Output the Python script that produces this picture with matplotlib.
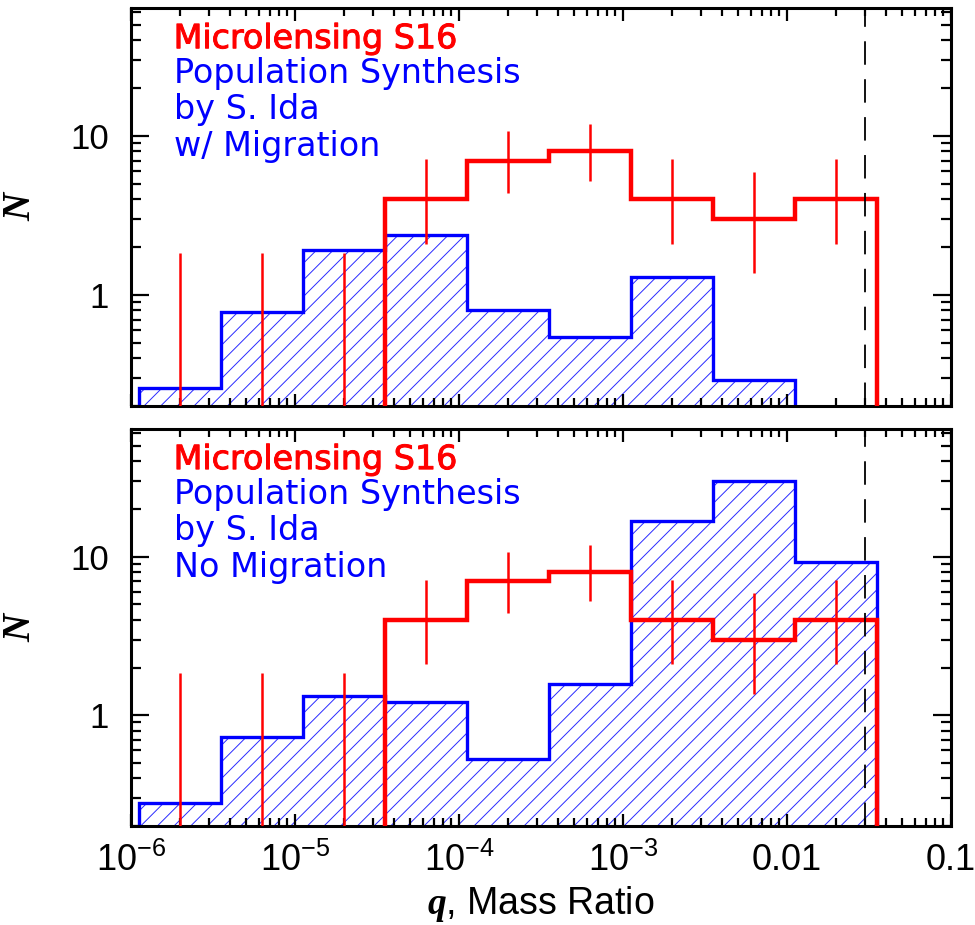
import numpy as np
import matplotlib
matplotlib.use("Agg")
import matplotlib.pyplot as plt
import matplotlib.patheffects as pe
from matplotlib.ticker import FixedLocator, FuncFormatter, LogLocator, NullFormatter

# ---- data ----
log_edges = [-5.95, -5.45, -4.95, -4.45, -3.95, -3.45, -2.95, -2.45, -1.95, -1.45]
log_centers = [-5.70, -5.20, -4.70, -4.20, -3.70, -3.20, -2.70, -2.20, -1.70]

micro_N = [0, 0, 0, 4, 7, 8, 4, 3, 4]
micro_err_hi = [1.84, 1.84, 1.84, 7.16, 10.77, 11.94, 7.16, 5.92, 7.16]
micro_err_lo = [0.01, 0.01, 0.01, 2.09, 4.40, 5.23, 2.09, 1.37, 2.09]

ida_mig = [0.26, 0.78, 1.91, 2.40, 0.80, 0.54, 1.30, 0.29, 0]
ida_nomig = [0.28, 0.73, 1.32, 1.22, 0.53, 1.58, 16.7, 29.9, 9.3]

panel_labels = ["w/ Migration", "No Migration"]
q_cut = 0.03
xtick_vals = [1e-6, 1e-5, 1e-4, 1e-3, 1e-2, 1e-1]
xtick_text = [r"$10^{-6}$", r"$10^{-5}$", r"$10^{-4}$", r"$10^{-3}$", "0.01", "0.1"]

edges = 10 ** np.array(log_edges)
centers = 10 ** np.array(log_centers)

plt.rcParams['hatch.linewidth'] = 0.7
plt.rcParams['font.family'] = ['Liberation Sans', 'DejaVu Sans']
plt.rcParams['mathtext.fontset'] = 'custom'
plt.rcParams['mathtext.rm'] = 'Liberation Sans'
plt.rcParams['mathtext.it'] = 'Liberation Sans:italic'
plt.rcParams['mathtext.bf'] = 'Liberation Serif:italic:bold'

fig = plt.figure(figsize=(9.75, 9.25), dpi=100)
W, H = 975, 925
ax_top = fig.add_axes([131 / W, 1 - 406 / H, 820 / W, 398 / H])
ax_bot = fig.add_axes([131 / W, 1 - 826 / H, 820 / W, 397 / H])

BASE = 1e-3


def draw_panel(ax, ida, label, show_x):
    ax.set_xscale('log')
    ax.set_yscale('log')
    ax.set_xlim(1e-6, 0.1)
    ax.set_ylim(0.2, 64)

    ida = np.array(ida, dtype=float)
    nz = np.nonzero(ida > 0)[0]
    i0, i1 = nz[0], nz[-1] + 1
    ax.stairs(ida[i0:i1], edges[i0:i1 + 1], baseline=BASE, fill=True,
              facecolor='none', edgecolor='#2a2aff', hatch='//', linewidth=0, zorder=1)
    ax.stairs(ida[i0:i1], edges[i0:i1 + 1], baseline=BASE, fill=False,
              color='#0000ff', linewidth=2.4, zorder=2)

    mN = np.array(micro_N, dtype=float)
    nzm = np.nonzero(mN > 0)[0]
    j0, j1 = nzm[0], nzm[-1] + 1
    ax.stairs(mN[j0:j1], edges[j0:j1 + 1], baseline=BASE, fill=False,
              color='#ff0000', linewidth=3.2, zorder=3)
    ax.vlines(centers, micro_err_lo, micro_err_hi, color='#ff0000', linewidth=1.8, zorder=4)

    ax.axvline(q_cut, color='black', linewidth=1.3, linestyle=(0, (13, 8)), zorder=5)

    # ticks
    ax.xaxis.set_major_locator(FixedLocator(xtick_vals))
    ax.xaxis.set_minor_locator(LogLocator(base=10, subs=np.arange(2, 10), numticks=20))
    ax.yaxis.set_major_locator(FixedLocator([1, 10]))
    ax.yaxis.set_minor_locator(LogLocator(base=10, subs=np.arange(2, 10), numticks=20))
    ax.xaxis.set_minor_formatter(NullFormatter())
    ax.yaxis.set_minor_formatter(NullFormatter())
    ax.yaxis.set_major_formatter(FuncFormatter(lambda v, p: "%d" % v))
    if show_x:
        ax.xaxis.set_major_formatter(FuncFormatter(
            lambda v, p: xtick_text[int(np.argmin([abs(np.log10(t) - np.log10(v)) for t in xtick_vals]))]))
    else:
        ax.xaxis.set_major_formatter(NullFormatter())
    ax.tick_params(axis='both', which='both', direction='in', top=True, right=True,
                   width=1.6, colors='black')
    ax.tick_params(axis='x', which='major', length=9, pad=12, labelsize=26)
    ax.tick_params(axis='x', which='minor', length=5.5)
    ax.tick_params(axis='y', which='major', length=13, pad=16, labelsize=25)
    ax.tick_params(axis='y', which='minor', length=7)
    for s in ax.spines.values():
        s.set_linewidth(2.2)

    ax.set_ylabel("N", family=['Liberation Serif', 'DejaVu Serif'], style='italic',
                  weight='bold', fontsize=28, labelpad=22)

    fs = 24
    ax.text(0.052, 0.899, "Microlensing S16", transform=ax.transAxes, color='#ff0000',
            fontsize=fs, family='DejaVu Sans',
            path_effects=[pe.withStroke(linewidth=0.7, foreground='#ff0000')])
    ax.text(0.052, 0.812, "Population Synthesis", transform=ax.transAxes, color='#0000ff',
            fontsize=fs, family='DejaVu Sans')
    ax.text(0.052, 0.721, "by S. Ida", transform=ax.transAxes, color='#0000ff',
            fontsize=fs, family='DejaVu Sans')
    ax.text(0.052, 0.628, label, transform=ax.transAxes, color='#0000ff',
            fontsize=fs, family='DejaVu Sans')


draw_panel(ax_top, ida_mig, panel_labels[0], False)
draw_panel(ax_bot, ida_nomig, panel_labels[1], True)

ax_bot.set_xlabel(r"$\mathbf{q}$, Mass Ratio", fontsize=27, labelpad=4)

fig.savefig("out.png", dpi=100)
